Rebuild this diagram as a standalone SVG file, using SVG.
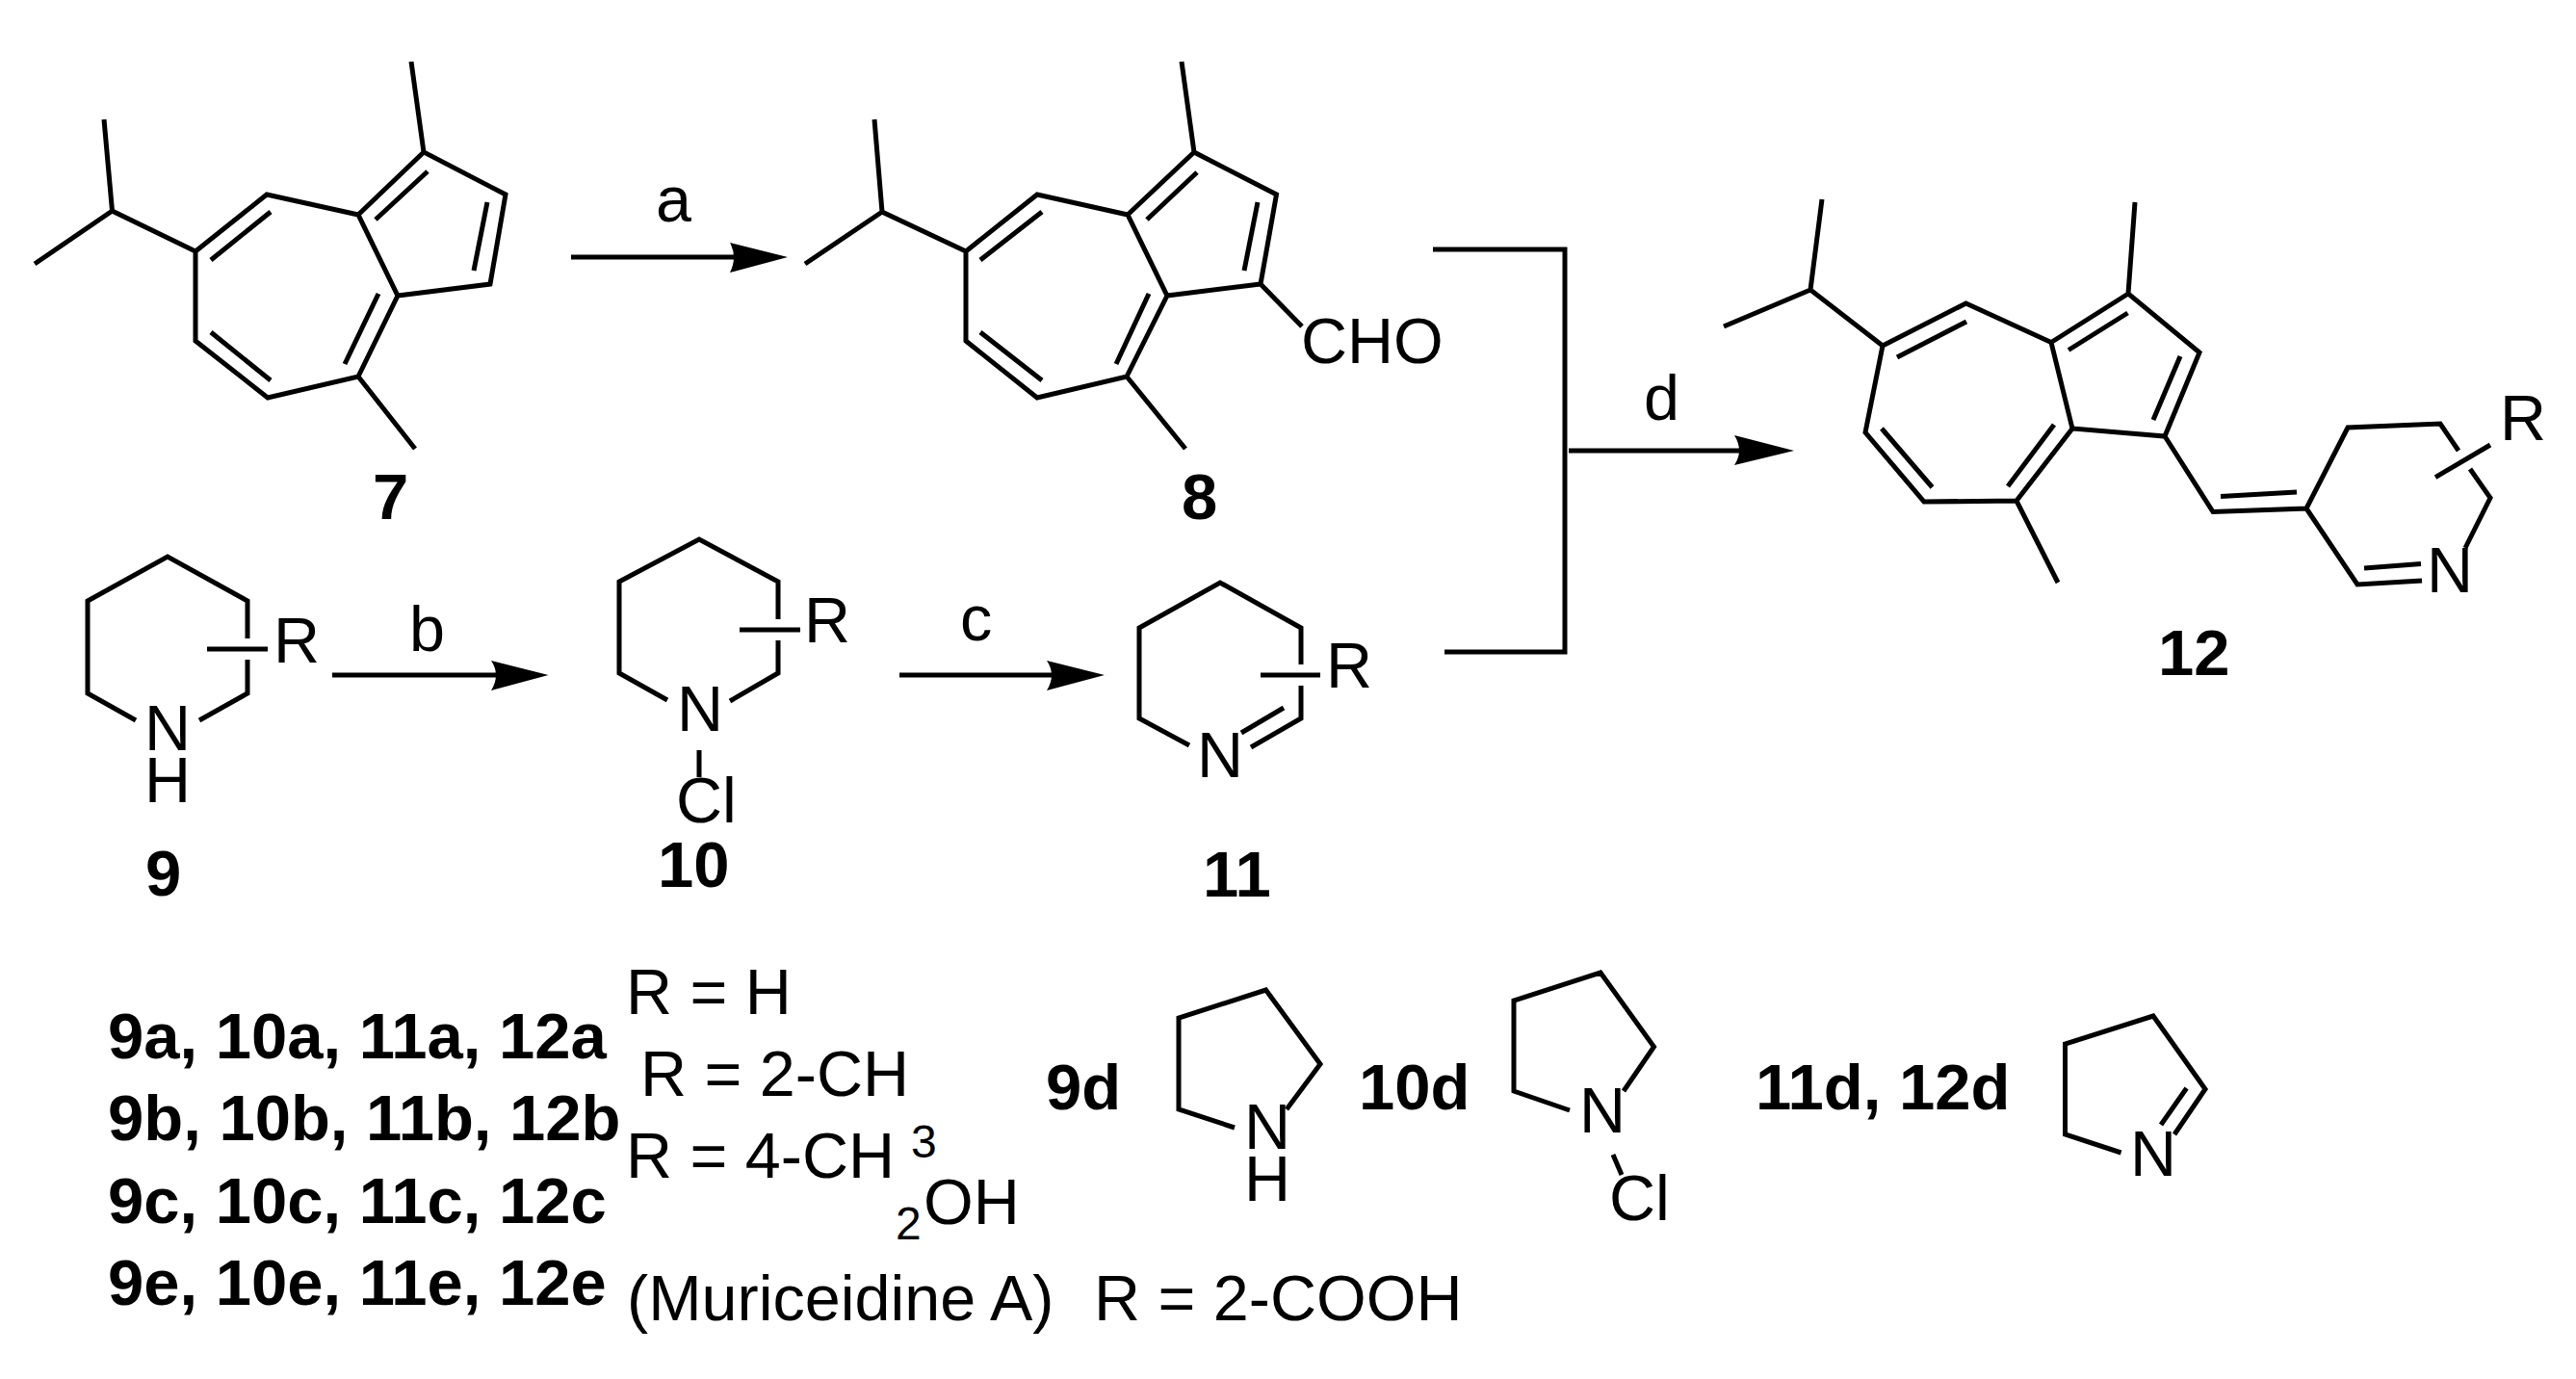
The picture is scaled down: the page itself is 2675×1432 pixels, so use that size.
<svg xmlns="http://www.w3.org/2000/svg" width="2675" height="1432" viewBox="0 0 2675 1432">
<style>
text{font-family:"Liberation Sans",Arial,sans-serif;font-size:66.500px;fill:#000}
.b{font-weight:bold;font-size:67px}
.s{font-size:48px}
path{fill:none;stroke:#000;stroke-width:5;stroke-linejoin:miter;stroke-linecap:butt}
.head{fill:#000;stroke:none}
</style>
<rect width="2675" height="1432" fill="#fff"/>
<g id="connectors">
<path d="M593 267H770"/><path class="head" d="M818 267L758 252Q766 267 758 283Z"/>
<path d="M345 701H520"/><path class="head" d="M569.500 701L510 686Q520 701 510 717Z"/>
<path d="M934 701H1095"/><path class="head" d="M1147 701L1087 686Q1097 701 1087 717Z"/>
<path d="M1488 259H1625V677H1500"/>
<path d="M1629 468H1810"/><path class="head" d="M1863 468L1801 452Q1811 468 1801 483Z"/>
<text x="681" y="230">a</text>
<text x="425" y="676">b</text>
<text x="997" y="665">c</text>
<text x="1707" y="436">d</text>
</g>
<g id="node-7">
<path d="M427 64L440 158L525 202L509 295L413 307L372 223L277 202L203 261V354L278 413L372 391L431 466M372 223L440 158M413 307L372 391M203 261L116.500 219L108 124M116.500 219L36 274"/>
<path d="M444 178L390 228M506 210L492 281M281 220L219 270M219 345L281 395M393 305L358 378"/>
<text class="b" x="387" y="539">7</text>
</g>
<g id="node-8">
<path d="M1227 64L1240 158L1325.500 202L1309 295L1212 307L1171 223L1077 202L1003 261V354L1077 413L1170 391L1231 466M1171 223L1240 158M1212 307L1170 391M1003 261L916 220L908 124M916 220L836 274M1309 295L1352 339"/>
<path d="M1243 179L1191 228M1306 210L1292 281M1082 220L1018 270M1018 345L1082 395M1193 305L1159 378"/>
<text x="1351" y="377">CHO</text>
<text class="b" x="1227" y="539">8</text>
</g>
<g id="node-12">
<path d="M2217 210L2210 305L2284 366L2248 453L2152 445L2130 355.500L2041.500 315L1955 359L1937 449L1998 521L2094 520L2137 605M2130 355.500L2210 305M2152 445L2094 520M1955 359L1880 301L1892 207M1880 301L1790 339"/>
<path d="M2209.500 325L2148 363.500M2264 370L2236 436M2042 334L1970 371M1954 445L2006.500 506M2133 441L2085 505"/>
<path d="M2248 453L2298 531.500L2395 528L2438 444L2534 440L2553 468M2565 487L2586 517L2560 569M2395 528L2448 607L2515 603M2306 515.500L2385 511M2455 590L2514 585.500M2529 495.600L2586 462"/>
<text x="2520" y="615">N</text>
<text x="2596" y="457">R</text>
<text class="b" x="2241" y="701">12</text>
</g>
<g id="node-9">
<path d="M257 663V624L174 578L91 624V720L141 748M257 685V720L207 748M215 674H278"/>
<text x="284" y="688">R</text>
<text x="150" y="779">N</text>
<text x="150" y="833">H</text>
<text class="b" x="151" y="930">9</text>
</g>
<g id="node-10">
<path d="M808 643V604L726 560L643 604V699L693 727M808 665V699L758 728M768 654H831M726 779V807"/>
<text x="835" y="667">R</text>
<text x="703" y="759">N</text>
<text x="702" y="854">Cl</text>
<text class="b" x="683" y="921">10</text>
</g>
<g id="node-11">
<path d="M1351 690V652L1267 605L1183 652V746L1235 774M1351 712V746L1299 776M1333 735L1289 761M1309 701H1371"/>
<text x="1377" y="714">R</text>
<text x="1243" y="807">N</text>
<text class="b" x="1249" y="931">11</text>
</g>
<g id="legend">
<text class="b" x="112" y="1099">9a, 10a, 11a, 12a</text>
<text class="b" x="112" y="1184">9b, 10b, 11b, 12b</text>
<text class="b" x="112" y="1270">9c, 10c, 11c, 12c</text>
<text class="b" x="112" y="1355">9e, 10e, 11e, 12e</text>
<text x="650" y="1053">R = H</text>
<text x="665" y="1138">R = 2-CH</text>
<text x="650" y="1223">R = 4-CH</text>
<text class="s" x="946" y="1202">3</text>
<text class="s" x="930" y="1287">2</text>
<text x="959" y="1271">OH</text>
<text x="651" y="1371">(Muriceidine A)</text>
<text x="1136" y="1371">R = 2-COOH</text>
<text class="b" x="1086" y="1152">9d</text>
<text class="b" x="1411" y="1152">10d</text>
<text class="b" x="1823" y="1152">11d, 12d</text>
</g>
<g id="node-9d">
<path d="M1282 1171L1224 1152V1057L1314.500 1028L1371 1105L1336 1152"/>
<text x="1292" y="1193">N</text>
<text x="1292" y="1247">H</text>
</g>
<g id="node-10d">
<path d="M1630 1153L1572 1133V1039L1662 1010L1717.500 1087L1686 1133M1675 1199L1684 1220"/>
<text x="1640" y="1176">N</text>
<text x="1671" y="1267">Cl</text>
</g>
<g id="node-11d">
<path d="M2202.600 1197L2144.500 1178V1084L2236 1055L2290 1131L2258 1178M2270.600 1130L2244 1168"/>
<text x="2212" y="1221">N</text>
</g>
</svg>
